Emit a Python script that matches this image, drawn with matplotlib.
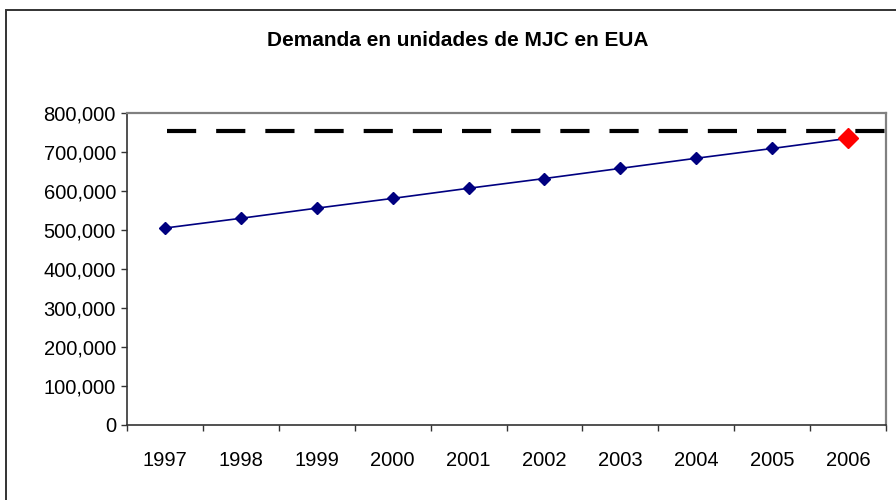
import numpy as np
import matplotlib.pyplot as plt
from matplotlib.patches import Rectangle
from matplotlib.ticker import FuncFormatter, FixedLocator

years = ["1997", "1998", "1999", "2000", "2001", "2002", "2003", "2004", "2005", "2006"]
demand = [505000, 530000, 556000, 581000, 607000, 632000, 658000, 684000, 709000, 735000]
capacity = 755000
y_ticks = [0, 100000, 200000, 300000, 400000, 500000, 600000, 700000, 800000]

plt.rcParams["font.family"] = ["Liberation Sans", "DejaVu Sans"]
plt.rcParams["lines.scale_dashes"] = False

W, H = 896, 500
fig = plt.figure(figsize=(W / 100, H / 100), dpi=100)
ax = fig.add_axes([127 / W, 75 / H, (886 - 127) / W, (425 - 113) / H])

# outer chart border (right and bottom run off the image)
fig.patches.append(Rectangle((6 / W, -0.1), 1.2, 1.1 - 10 / H, transform=fig.transFigure,
                             fill=False, edgecolor="#333333", linewidth=1.4, clip_on=False))

x = np.arange(len(years))

# dashed target line from the first category to the right edge
ax.plot([x[0] + 0.03, len(years) - 0.5], [capacity, capacity], color="black",
        linewidth=3.0, dashes=(21, 14.4), solid_capstyle="butt", zorder=2)

ax.plot(x, demand, color="#000080", linewidth=1.2, marker="D", markersize=6.4,
        markerfacecolor="#000080", markeredgecolor="#000080", zorder=3)
ax.plot(x[-1], demand[-1], linestyle="none", marker="D", markersize=10.5,
        markerfacecolor="#ff0000", markeredgecolor="#ff0000", zorder=4)

ax.set_xlim(-0.5, len(years) - 0.5)
ax.set_ylim(0, 800000)

ax.set_xticks(x)
ax.set_xticklabels(years)
ax.xaxis.set_minor_locator(FixedLocator(np.arange(len(years) + 1) - 0.5))
ax.tick_params(axis="x", which="major", length=0, pad=19, labelsize=14.5)
ax.tick_params(axis="x", which="minor", length=4, width=1, color="#333333")

ax.set_yticks(y_ticks)
ax.yaxis.set_major_formatter(FuncFormatter(lambda v, p: f"{int(v):,}"))
ax.tick_params(axis="y", length=4, width=1, color="#333333", pad=4, labelsize=14.5)

for s in ["left", "bottom"]:
    ax.spines[s].set_color("#333333")
    ax.spines[s].set_linewidth(1.2)
for s in ["top", "right"]:
    ax.spines[s].set_color("#808080")
    ax.spines[s].set_linewidth(1.6)

fig.text(458 / W, 1 - 41 / H, "Demanda en unidades de MJC en EUA", ha="center", va="center",
         fontsize=15, fontweight="bold")

fig.savefig("out.png", dpi=100)
